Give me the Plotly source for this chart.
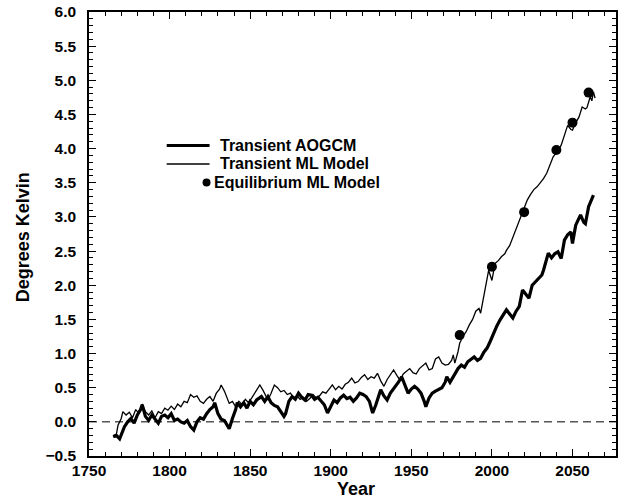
import plotly.graph_objects as go

# ---- data ----
aogcm_years = [1765, 1767, 1769, 1771, 1772, 1774, 1776, 1778, 1780, 1782, 1783, 1785, 1787, 1789, 1791, 1793, 1795, 1797, 1799,
               1801, 1803, 1805, 1807, 1809, 1811, 1813, 1815, 1817, 1819, 1821, 1823, 1825, 1827, 1828, 1830, 1832, 1834, 1836, 1837,
               1839, 1841, 1842, 1844, 1846, 1848, 1850, 1852, 1854, 1856, 1857, 1859, 1861, 1863, 1865, 1867, 1869, 1871, 1872, 1874,
               1876, 1878, 1880, 1882, 1884, 1886, 1888, 1890, 1892, 1894, 1896, 1898, 1900, 1902, 1904, 1906, 1908, 1910, 1912, 1914,
               1916, 1918, 1920, 1922, 1924, 1926, 1928, 1930, 1931, 1933, 1935, 1937, 1939, 1940, 1942, 1944, 1946, 1948, 1950, 1952,
               1954, 1956, 1958, 1959, 1961, 1963, 1965, 1967, 1969, 1971, 1972, 1974, 1976, 1977, 1979, 1981, 1983, 1985, 1987, 1989,
               1991, 1993, 1995, 1997, 1999, 2001, 2003, 2005, 2007, 2009, 2011, 2013, 2015, 2017, 2019, 2021, 2023, 2025, 2027, 2029,
               2031, 2032, 2034, 2035, 2037, 2039, 2041, 2043, 2045, 2047, 2049, 2050, 2052, 2054, 2055, 2057, 2058, 2060, 2062, 2063]
aogcm_values = [-0.22, -0.20, -0.25, -0.12, -0.07, 0.00, 0.05, -0.02, 0.10, 0.18, 0.25, 0.08, 0.02, 0.10, 0.04, -0.02, 0.08, 0.10, 0.06,
                0.12, 0.02, 0.04, 0.00, -0.02, 0.02, -0.07, -0.12, 0.00, 0.06, 0.04, 0.12, 0.18, 0.22, 0.28, 0.12, 0.04, 0.02, -0.07, -0.10,
                0.05, 0.18, 0.28, 0.22, 0.28, 0.20, 0.30, 0.25, 0.32, 0.36, 0.37, 0.30, 0.37, 0.28, 0.24, 0.22, 0.15, 0.08, 0.12, 0.30,
                0.37, 0.33, 0.42, 0.36, 0.32, 0.40, 0.39, 0.33, 0.36, 0.30, 0.25, 0.13, 0.22, 0.32, 0.28, 0.35, 0.39, 0.34, 0.36, 0.30,
                0.35, 0.42, 0.40, 0.37, 0.30, 0.13, 0.25, 0.40, 0.47, 0.38, 0.32, 0.42, 0.48, 0.52, 0.58, 0.66, 0.55, 0.42, 0.48, 0.52,
                0.48, 0.42, 0.30, 0.22, 0.35, 0.42, 0.45, 0.48, 0.50, 0.58, 0.66, 0.58, 0.66, 0.70, 0.78, 0.83, 0.80, 0.88, 0.92, 0.95,
                0.90, 0.93, 1.02, 1.08, 1.18, 1.30, 1.40, 1.49, 1.56, 1.64, 1.58, 1.52, 1.62, 1.69, 1.93, 1.86, 1.81, 2.00, 2.05, 2.10,
                2.15, 2.22, 2.38, 2.47, 2.40, 2.46, 2.49, 2.39, 2.66, 2.74, 2.78, 2.61, 2.88, 3.00, 3.03, 2.92, 2.90, 3.15, 3.25, 3.32]

ml_years = [1765, 1767, 1768, 1770, 1771, 1773, 1775, 1777, 1779, 1781, 1783, 1785, 1787, 1789, 1791, 1793, 1795, 1797, 1799,
            1801, 1803, 1805, 1807, 1809, 1811, 1813, 1815, 1817, 1819, 1821, 1823, 1825, 1827, 1829, 1831, 1832, 1834, 1836, 1837,
            1839, 1841, 1843, 1845, 1847, 1849, 1851, 1853, 1855, 1856, 1858, 1860, 1861, 1863, 1865, 1867, 1869, 1871, 1873, 1875,
            1877, 1879, 1881, 1883, 1885, 1887, 1889, 1891, 1893, 1895, 1897, 1899, 1901, 1903, 1905, 1907, 1909, 1911, 1913, 1915,
            1917, 1919, 1921, 1923, 1925, 1927, 1929, 1931, 1933, 1935, 1937, 1939, 1941, 1943, 1945, 1947, 1949, 1951, 1953, 1955,
            1957, 1959, 1961, 1963, 1965, 1967, 1969, 1971, 1973, 1975, 1976, 1977, 1979, 1980, 1982, 1984, 1986, 1988, 1990, 1992,
            1993, 1995, 1997, 1998, 2000, 2002, 2004, 2006, 2008, 2009, 2011, 2012, 2014, 2016, 2018, 2020, 2022, 2024, 2026, 2028,
            2030, 2032, 2034, 2036, 2038, 2040, 2041, 2043, 2044, 2046, 2047, 2049, 2050, 2052, 2054, 2056, 2058, 2059, 2061, 2062,
            2063, 2064]
ml_values = [-0.20, -0.18, -0.05, 0.05, 0.15, 0.10, 0.14, 0.06, 0.18, 0.12, 0.26, 0.15, 0.10, 0.16, 0.06, 0.15, 0.12, 0.20, 0.17,
             0.23, 0.18, 0.26, 0.22, 0.30, 0.28, 0.40, 0.36, 0.38, 0.30, 0.27, 0.33, 0.37, 0.30, 0.42, 0.48, 0.54, 0.45, 0.32, 0.27,
             0.30, 0.22, 0.30, 0.25, 0.33, 0.28, 0.35, 0.42, 0.50, 0.54, 0.46, 0.38, 0.32, 0.42, 0.54, 0.50, 0.44, 0.46, 0.40, 0.42,
             0.35, 0.38, 0.33, 0.36, 0.30, 0.34, 0.40, 0.35, 0.38, 0.44, 0.42, 0.48, 0.54, 0.47, 0.52, 0.48, 0.55, 0.58, 0.64, 0.57,
             0.59, 0.65, 0.69, 0.62, 0.66, 0.64, 0.71, 0.60, 0.52, 0.62, 0.70, 0.76, 0.68, 0.61, 0.70, 0.74, 0.78, 0.72, 0.70, 0.78,
             0.82, 0.86, 0.76, 0.78, 0.92, 0.95, 0.86, 0.83, 0.84, 0.90, 0.98, 0.86, 1.03, 1.15, 1.25, 1.32, 1.42, 1.50, 1.62, 1.66,
             1.59, 1.85, 2.10, 2.22, 2.07, 2.32, 2.36, 2.42, 2.46, 2.51, 2.58, 2.64, 2.75, 2.86, 3.00, 3.12, 3.25, 3.33, 3.40, 3.44,
             3.50, 3.56, 3.64, 3.76, 3.88, 3.94, 3.97, 4.05, 4.12, 4.25, 4.34, 4.28, 4.27, 4.38, 4.46, 4.61, 4.58, 4.60, 4.76, 4.70,
             4.83, 4.74]

eq_years = [1980, 2000, 2020, 2040, 2050, 2060]
eq_values = [1.27, 2.27, 3.07, 3.98, 4.38, 4.82]

legend_labels = ["Transient AOGCM", "Transient ML Model", "Equilibrium ML Model"]
x_title = "Year"
y_title = "Degrees Kelvin"

FONT = "Liberation Sans, Arial, Helvetica, sans-serif"

fig = go.Figure()
fig.add_trace(go.Scatter(x=aogcm_years, y=aogcm_values, mode="lines",
                         line=dict(color="black", width=3.2), name=legend_labels[0], showlegend=False))
fig.add_trace(go.Scatter(x=ml_years, y=ml_values, mode="lines",
                         line=dict(color="black", width=1.3), name=legend_labels[1], showlegend=False))
fig.add_trace(go.Scatter(x=eq_years, y=eq_values, mode="markers",
                         marker=dict(color="black", size=10), name=legend_labels[2], showlegend=False))

# zero reference line
fig.add_shape(type="line", xref="paper", yref="y", x0=0, x1=1, y0=0, y1=0,
              line=dict(color="black", width=1, dash="8px,5px"))

# manual legend (pixel-matched)
L, R, T, B = 89, 618, 12, 456
def px(x):
    return (x - L) / (R - L)
def py(y):
    return (B - y) / (B - T)

rows_y = [145.5, 164, 182.5]
fig.add_shape(type="line", xref="paper", yref="paper", x0=px(167), x1=px(210), y0=py(rows_y[0]), y1=py(rows_y[0]),
              line=dict(color="black", width=3))
fig.add_shape(type="line", xref="paper", yref="paper", x0=px(167), x1=px(210), y0=py(rows_y[1]), y1=py(rows_y[1]),
              line=dict(color="black", width=1.3))
fig.add_shape(type="circle", xref="paper", yref="paper", x0=px(203), x1=px(211),
              y0=py(rows_y[2] + 4), y1=py(rows_y[2] - 4),
              line=dict(color="black", width=0), fillcolor="black")
for txt, xx, yy in [(legend_labels[0], 219, rows_y[0]), (legend_labels[1], 219, rows_y[1]), (legend_labels[2], 213, rows_y[2])]:
    fig.add_annotation(text=txt, xref="paper", yref="paper", x=px(xx), y=py(yy), xanchor="left", yanchor="middle",
                       showarrow=False, borderpad=0,
                       font=dict(family=FONT, size=16, color="black", weight="bold"))

# axis titles
fig.add_annotation(text=x_title, xref="paper", yref="paper", x=px(357), y=py(489), xanchor="center", yanchor="middle",
                   showarrow=False, font=dict(family=FONT, size=18, color="black", weight="bold"))
fig.add_annotation(text=y_title, xref="paper", yref="paper", x=px(23), y=py(237), xanchor="center", yanchor="middle",
                   textangle=-90, showarrow=False, font=dict(family=FONT, size=18, color="black", weight="bold"))

axis_common = dict(showgrid=False, zeroline=False, showline=True, linecolor="black", linewidth=1.5,
                   mirror="ticks", ticks="inside", tickcolor="black", tickwidth=1.2, ticklen=7,
                   tickfont=dict(family=FONT, size=15.5, color="black", weight="bold"))

fig.update_xaxes(range=[1750, 2077], tick0=1750, dtick=50,
                 minor=dict(ticks="inside", dtick=10, ticklen=4, tickcolor="black", tickwidth=1), **axis_common)
fig.update_yaxes(range=[-0.5, 6.0], tick0=-0.5, dtick=0.5, tickformat=".1f",
                 minor=dict(ticks="inside", dtick=0.1, ticklen=4, tickcolor="black", tickwidth=1),
                 ticklabelstandoff=8, **axis_common)

fig.update_layout(width=621, height=499, margin=dict(l=L, r=621 - R, t=T, b=499 - B),
                  paper_bgcolor="white", plot_bgcolor="white", showlegend=False,
                  font=dict(family=FONT, color="black"))

fig.write_html("out.html", config={"displayModeBar": False},
               post_script="document.body.style.margin='0';document.body.style.overflow='hidden';"
                           "document.documentElement.style.overflow='hidden';")
